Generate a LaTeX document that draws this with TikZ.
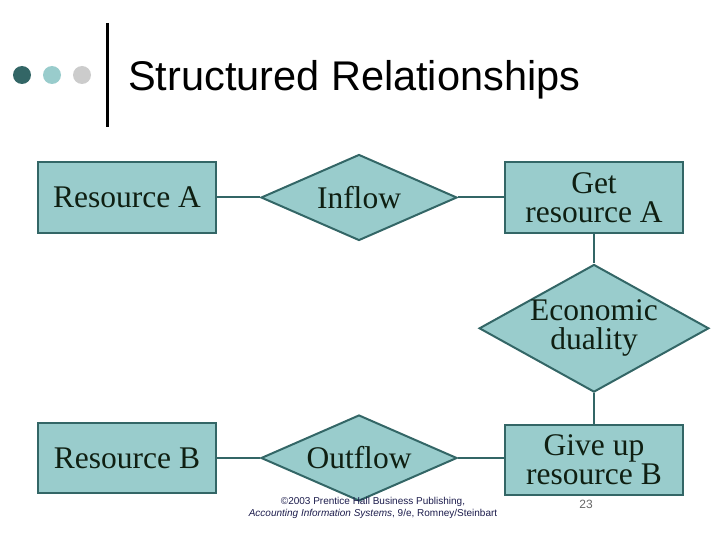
\documentclass[tikz,border=0pt]{standalone}
\usepackage{fontspec}
\setmainfont{Liberation Serif}
\newfontfamily\titlefont{Liberation Sans}
\usetikzlibrary{positioning, shapes.geometric}

\definecolor{boxfill}{HTML}{99CCCC}
\definecolor{boxline}{HTML}{336666}
\definecolor{boxtext}{HTML}{0F1F12}
\definecolor{dotgray}{HTML}{CCCCCC}
\definecolor{footblue}{HTML}{1C1C4C}

\begin{document}
\begin{tikzpicture}[
    x=1pt, y=-1pt,
    node distance=30pt and 43pt,
    font=\fontsize{31.5}{29}\selectfont,
    every node/.style={align=center, text=boxtext},
    entity/.style={rectangle, draw=boxline, line width=2pt, fill=boxfill, minimum width=178pt, minimum height=70pt, inner sep=0pt},
    rel/.style={diamond, draw=boxline, line width=2pt, fill=boxfill, inner sep=0pt, aspect=2.2, minimum width=196pt, minimum height=86pt},
    link/.style={draw=boxline, line width=2pt}
]
\useasboundingbox (0,0) rectangle (720,540);

% header
\fill[boxline] (22,75) circle (9);
\fill[boxfill] (52,75) circle (9);
\fill[dotgray] (82,75) circle (9);
\draw[line width=3pt] (107,23) -- (107,127);
\node[anchor=base west, inner sep=0pt, text=black, font=\titlefont\fontsize{41.5}{44}\selectfont] (title) at (128,91) {Structured Relationships};

% top row
\node[entity] (resA) at (127,197.5) {Resource A};
\node[rel, right=of resA] (inflow) {Inflow};
\node[entity, right=46pt of inflow] (getA) {Get\\resource A};

% duality
\node[rel, below=30pt of getA, aspect=1.8, minimum width=225pt, minimum height=124pt] (dual) {Economic\\duality};

% bottom row
\node[entity] (resB) at (127,458) {Resource B};
\node[rel, right=of resB] (outflow) {Outflow};
\node[entity, below=31pt of dual] (giveB) {Give up\\resource B};

\draw[link] (resA) -- (inflow);
\draw[link] (inflow) -- (inflow -| getA.west);
\draw[link] (getA) -- (dual);
\draw[link] (dual) -- (giveB);
\draw[link] (resB) -- (outflow);
\draw[link] (outflow) -- (outflow -| giveB.west);

% footer
\node[font=\titlefont\fontsize{10}{12.5}\selectfont, text=footblue, inner sep=0pt] (credit) at (373,508) {\textcopyright 2003 Prentice Hall Business Publishing,\\\textit{Accounting Information Systems}, 9/e, Romney/Steinbart};
\node[font=\titlefont\fontsize{12}{14}\selectfont, text=black!60, inner sep=0pt] (page) at (586,504) {23};
\end{tikzpicture}
\end{document}
